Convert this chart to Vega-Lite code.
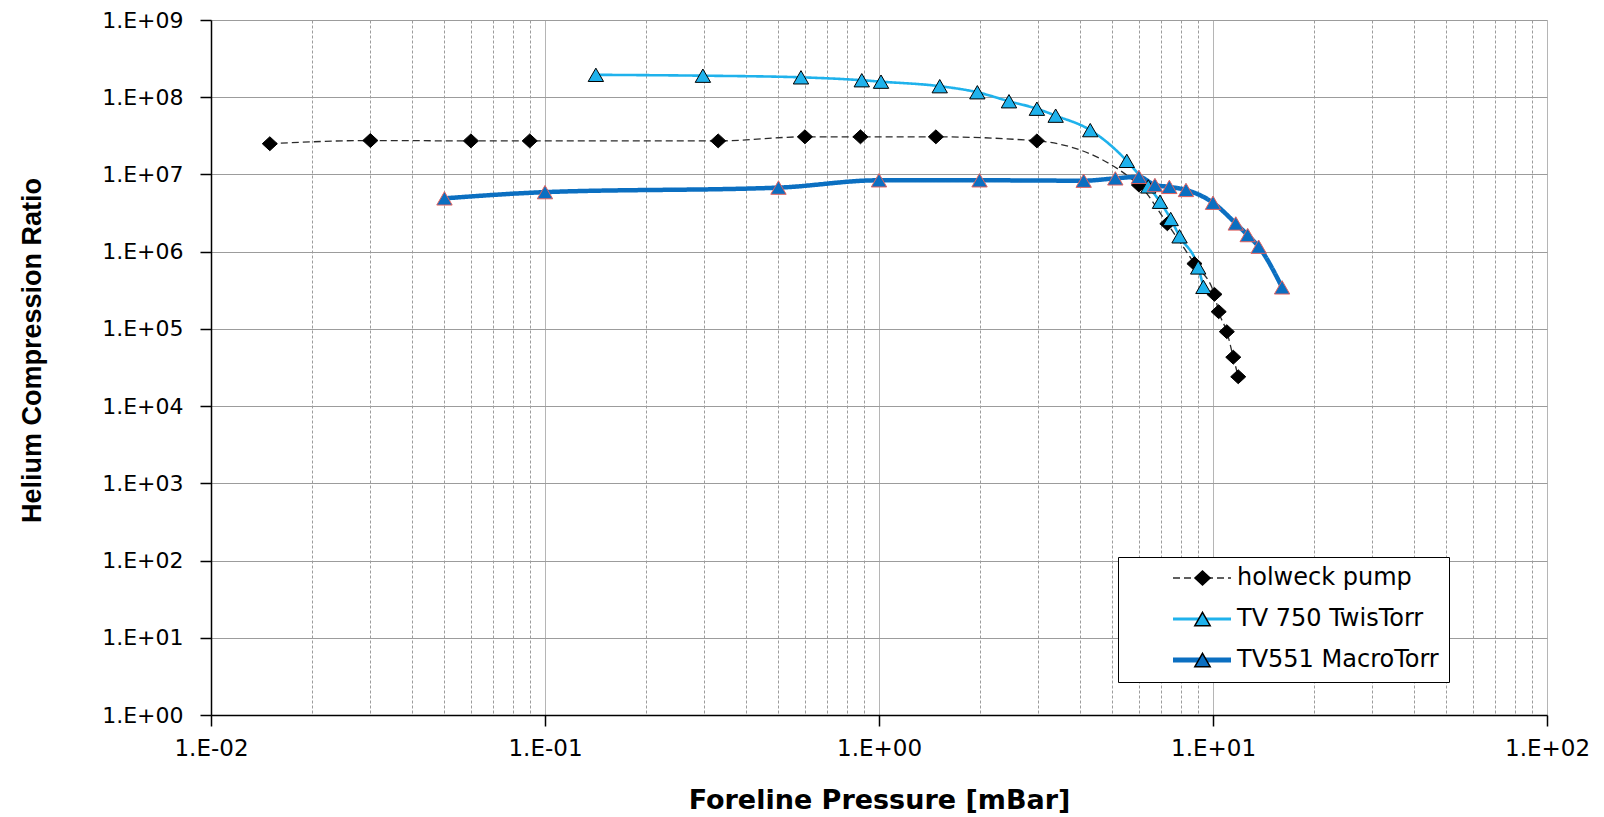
{
  "$schema": "https://vega.github.io/schema/vega-lite/v6.json",
  "width": 1336,
  "height": 695,
  "autosize": {"type": "none"},
  "padding": {"left": 211, "top": 20, "right": 57, "bottom": 102},
  "background": "white",
  "config": {"view": {"stroke": null}, "font": "DejaVu Sans"},
  "data": {
    "values": [
      {"pump": "holweck pump", "p": 0.015, "r": 25000000},
      {"pump": "holweck pump", "p": 0.03, "r": 27500000},
      {"pump": "holweck pump", "p": 0.06, "r": 27200000},
      {"pump": "holweck pump", "p": 0.09, "r": 27200000},
      {"pump": "holweck pump", "p": 0.33, "r": 27200000},
      {"pump": "holweck pump", "p": 0.6, "r": 30700000},
      {"pump": "holweck pump", "p": 0.88, "r": 30700000},
      {"pump": "holweck pump", "p": 1.48, "r": 30700000},
      {"pump": "holweck pump", "p": 2.97, "r": 27200000},
      {"pump": "holweck pump", "p": 6.0, "r": 7300000},
      {"pump": "holweck pump", "p": 7.3, "r": 2300000},
      {"pump": "holweck pump", "p": 8.8, "r": 700000},
      {"pump": "holweck pump", "p": 10.1, "r": 280000},
      {"pump": "holweck pump", "p": 10.4, "r": 167000},
      {"pump": "holweck pump", "p": 11.0, "r": 92000},
      {"pump": "holweck pump", "p": 11.5, "r": 43000},
      {"pump": "holweck pump", "p": 11.9, "r": 24000},
      {"pump": "TV 750 TwisTorr", "p": 0.142, "r": 195000000},
      {"pump": "TV 750 TwisTorr", "p": 0.297, "r": 190000000},
      {"pump": "TV 750 TwisTorr", "p": 0.584, "r": 181000000},
      {"pump": "TV 750 TwisTorr", "p": 0.888, "r": 166000000},
      {"pump": "TV 750 TwisTorr", "p": 1.014, "r": 159000000},
      {"pump": "TV 750 TwisTorr", "p": 1.52, "r": 139000000},
      {"pump": "TV 750 TwisTorr", "p": 1.97, "r": 116000000},
      {"pump": "TV 750 TwisTorr", "p": 2.45, "r": 88700000},
      {"pump": "TV 750 TwisTorr", "p": 2.97, "r": 71000000},
      {"pump": "TV 750 TwisTorr", "p": 3.38, "r": 57700000},
      {"pump": "TV 750 TwisTorr", "p": 4.29, "r": 37500000},
      {"pump": "TV 750 TwisTorr", "p": 5.52, "r": 15000000},
      {"pump": "TV 750 TwisTorr", "p": 6.4, "r": 7000000},
      {"pump": "TV 750 TwisTorr", "p": 6.94, "r": 4430000},
      {"pump": "TV 750 TwisTorr", "p": 7.47, "r": 2650000},
      {"pump": "TV 750 TwisTorr", "p": 7.94, "r": 1580000},
      {"pump": "TV 750 TwisTorr", "p": 9.03, "r": 625000},
      {"pump": "TV 750 TwisTorr", "p": 9.36, "r": 350000},
      {"pump": "TV551 MacroTorr", "p": 0.05, "r": 4900000},
      {"pump": "TV551 MacroTorr", "p": 0.1, "r": 5900000},
      {"pump": "TV551 MacroTorr", "p": 0.5, "r": 6750000},
      {"pump": "TV551 MacroTorr", "p": 1.0, "r": 8400000},
      {"pump": "TV551 MacroTorr", "p": 2.0, "r": 8400000},
      {"pump": "TV551 MacroTorr", "p": 4.1, "r": 8300000},
      {"pump": "TV551 MacroTorr", "p": 5.1, "r": 8900000},
      {"pump": "TV551 MacroTorr", "p": 6.0, "r": 9300000},
      {"pump": "TV551 MacroTorr", "p": 6.7, "r": 7300000},
      {"pump": "TV551 MacroTorr", "p": 7.4, "r": 6900000},
      {"pump": "TV551 MacroTorr", "p": 8.3, "r": 6300000},
      {"pump": "TV551 MacroTorr", "p": 10.0, "r": 4300000},
      {"pump": "TV551 MacroTorr", "p": 11.7, "r": 2320000},
      {"pump": "TV551 MacroTorr", "p": 12.7, "r": 1640000},
      {"pump": "TV551 MacroTorr", "p": 13.7, "r": 1160000},
      {"pump": "TV551 MacroTorr", "p": 16.1, "r": 345000}
    ]
  },
  "encoding": {
    "x": {
      "field": "p",
      "type": "quantitative",
      "scale": {"type": "log", "domain": [0.01, 100], "nice": false},
      "axis": {
        "values": [0.01,0.02,0.03,0.04,0.05,0.06,0.07,0.08,0.09,0.1,0.2,0.3,0.4,0.5,0.6,0.7,0.8,0.9,1,2,3,4,5,6,7,8,9,10,20,30,40,50,60,70,80,90,100],
        "labelExpr": "abs(log(datum.value)/LN10 - round(log(datum.value)/LN10)) < 0.000001 ? '1.E' + (datum.value < 1 ? '-' : '+') + '0' + abs(round(log(datum.value)/LN10)) : ''",
        "labelOverlap": false,
        "labelFlush": false,
        "grid": true,
        "gridColor": "#9c9c9c",
        "gridWidth": 1,
        "gridDash": {"condition": {"test": "abs(log(datum.value)/LN10 - round(log(datum.value)/LN10)) < 0.000001", "value": [1, 0]}, "value": [3, 2]},
        "tickOpacity": {"condition": {"test": "abs(log(datum.value)/LN10 - round(log(datum.value)/LN10)) < 0.000001", "value": 1}, "value": 0},
        "tickColor": "black",
        "tickSize": 11,
        "tickWidth": 1.5,
        "domainColor": "black",
        "domainWidth": 1.5,
        "labelPadding": 11,
        "labelFont": "DejaVu Sans",
        "labelFontSize": 23,
        "labelColor": "black",
        "title": "Foreline Pressure [mBar]",
        "titleFont": "DejaVu Sans",
        "titleFontWeight": "bold",
        "titleFontSize": 27,
        "titleColor": "black",
        "titleBaseline": "alphabetic",
        "titleY": 93,
        "titleAlign": "center"
      }
    },
    "y": {
      "field": "r",
      "type": "quantitative",
      "scale": {"type": "log", "domain": [1, 1000000000], "nice": false},
      "axis": {
        "values": [1,10,100,1000,10000,100000,1000000,10000000,100000000,1000000000],
        "labelExpr": "'1.E' + (datum.value < 1 ? '-' : '+') + '0' + abs(round(log(datum.value)/LN10))",
        "labelOverlap": false,
        "labelFlush": false,
        "grid": true,
        "gridColor": "#9c9c9c",
        "gridWidth": 1,
        "tickColor": "black",
        "tickSize": 11,
        "tickWidth": 1.5,
        "domainColor": "black",
        "domainWidth": 1.5,
        "labelPadding": 17,
        "labelFont": "DejaVu Sans",
        "labelFontSize": 22,
        "labelColor": "black",
        "title": "Helium Compression Ratio",
        "titleFont": "Liberation Sans",
        "titleFontWeight": "bold",
        "titleFontSize": 27,
        "titleColor": "black",
        "titleAngle": -90,
        "titleBaseline": "alphabetic",
        "titleAlign": "center",
        "titleX": -171,
        "titleY": 330
      }
    }
  },
  "layer": [
    {
      "mark": {"type": "line", "interpolate": "monotone"},
      "encoding": {
        "stroke": {
          "field": "pump",
          "type": "nominal",
          "scale": {"domain": ["holweck pump", "TV 750 TwisTorr", "TV551 MacroTorr"], "range": ["#2b2b2b", "#1fb2ec", "#0b6fc1"]},
          "legend": {
            "orient": "none",
            "legendX": 907,
            "legendY": 537,
            "title": null,
            "symbolType": "M-1,0H1",
            "symbolSize": 3364,
            "clipHeight": 22,
            "rowPadding": 17,
            "padding": 10,
            "symbolOffset": 62,
            "labelOffset": 23,
            "labelLimit": 400,
            "labelFont": "DejaVu Sans",
            "labelFontSize": 24,
            "labelColor": "black",
            "strokeColor": "black",
            "fillColor": "white",
            "zindex": 1,
            "encode": {
              "symbols": {
                "update": {
                  "strokeWidth": {"signal": "datum.value === 'TV551 MacroTorr' ? 5 : datum.value === 'TV 750 TwisTorr' ? 3 : 1.3"},
                  "strokeDash": {"signal": "datum.value === 'holweck pump' ? [7, 4] : [1, 0]"}
                }
              }
            }
          }
        },
        "strokeWidth": {
          "condition": [
            {"test": "datum.pump === 'TV551 MacroTorr'", "value": 4.5},
            {"test": "datum.pump === 'holweck pump'", "value": 1.3}
          ],
          "value": 2.6
        },
        "strokeDash": {
          "condition": {"test": "datum.pump === 'holweck pump'", "value": [7, 4]},
          "value": [1, 0]
        }
      }
    },
    {
      "mark": {"type": "point", "filled": true, "size": 3364, "opacity": 1, "strokeWidth": 1},
      "encoding": {
        "shape": {
          "field": "pump",
          "type": "nominal",
          "scale": {
            "domain": ["TV 750 TwisTorr", "TV551 MacroTorr", "holweck pump"],
            "range": ["M0,-0.23L0.265,0.23L-0.265,0.23Z", "M0,-0.23L0.265,0.23L-0.265,0.23Z", "M0,-0.24L0.26,0L0,0.24L-0.26,0Z"]
          },
          "legend": {
            "orient": "none",
            "legendX": 907,
            "legendY": 537,
            "title": null,
            "values": ["holweck pump", "TV 750 TwisTorr", "TV551 MacroTorr"],
            "symbolSize": 3364,
            "clipHeight": 22,
            "rowPadding": 17,
            "padding": 10,
            "symbolOffset": 44.5,
            "labelOffset": 0,
            "labelExpr": "''",
            "labelFont": "DejaVu Sans",
            "labelFontSize": 24,
            "zindex": 2,
            "encode": {
              "symbols": {
                "update": {
                  "stroke": {"signal": "datum.value === 'TV551 MacroTorr' ? '#e0615f' : '#000000'"},
                  "strokeWidth": {"value": 1},
                  "opacity": {"value": 1}
                }
              }
            }
          }
        },
        "fill": {
          "field": "pump",
          "type": "nominal",
          "scale": {
            "domain": ["TV 750 TwisTorr", "TV551 MacroTorr", "holweck pump"],
            "range": ["#1fb2ec", "#0b6fc1", "#000000"]
          },
          "legend": {
            "orient": "none",
            "legendX": 907,
            "legendY": 537,
            "title": null,
            "values": ["holweck pump", "TV 750 TwisTorr", "TV551 MacroTorr"],
            "symbolSize": 3364,
            "clipHeight": 22,
            "rowPadding": 17,
            "padding": 10,
            "symbolOffset": 44.5,
            "labelOffset": 0,
            "labelExpr": "''",
            "labelFont": "DejaVu Sans",
            "labelFontSize": 24,
            "zindex": 2
          }
        },
        "stroke": {
          "condition": {"test": "datum.pump === 'TV551 MacroTorr'", "value": "#e0615f"},
          "value": "#000000"
        }
      }
    }
  ]
}
